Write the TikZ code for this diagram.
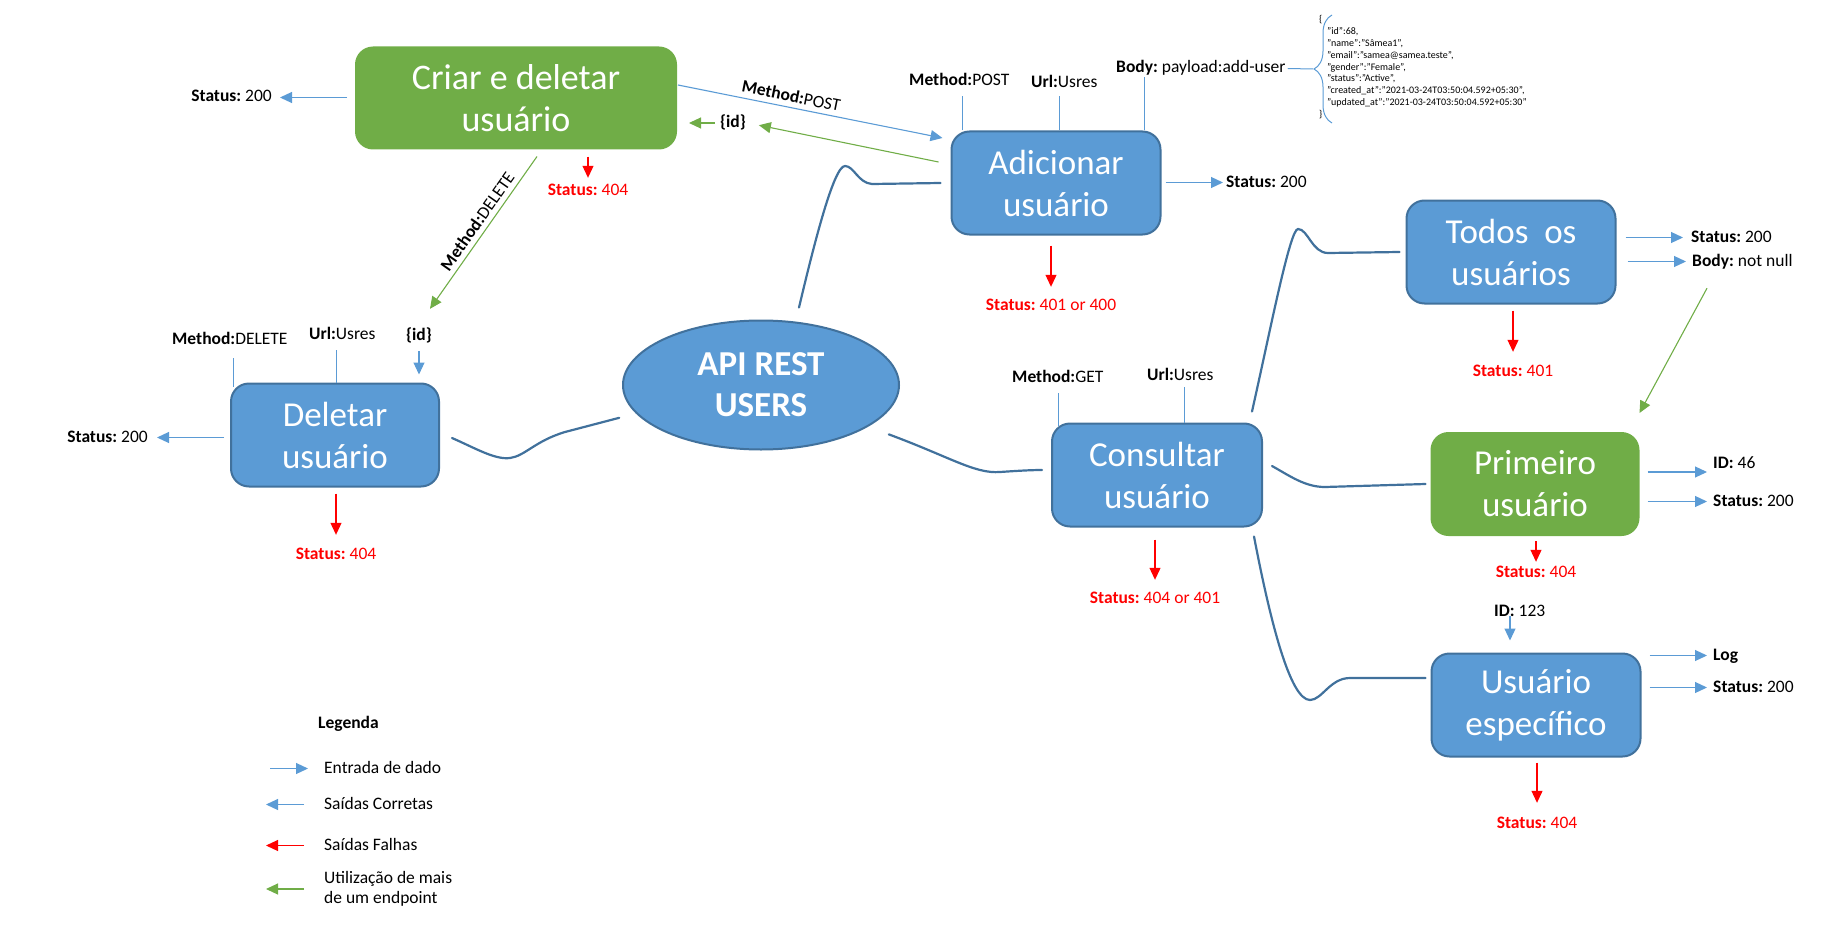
\documentclass[tikz,border=0pt]{standalone}
\usepackage{fontspec}
\setmainfont{Carlito}
\frenchspacing
\usetikzlibrary{arrows.meta, shapes.geometric, decorations.pathreplacing}
\definecolor{boxblue}{HTML}{5B9BD5}
\definecolor{lineblue}{HTML}{41719C}
\definecolor{boxgreen}{HTML}{70AD47}
\definecolor{failred}{HTML}{FF0000}
\tikzset{>={Triangle[length=12pt,width=11pt]},
  box/.style={rectangle, rounded corners=18pt, fill=boxblue, draw=lineblue, line width=2pt, text=white, align=center, inner sep=0pt, minimum width=209pt, minimum height=103pt, font=\fontsize{35}{42}\selectfont},
  gbox/.style={box, fill=boxgreen, draw=none},
  lbl/.style={inner sep=2pt, text height=12pt, text depth=3pt, font=\fontsize{17.5}{20}\selectfont},
  rlbl/.style={lbl, text=failred},
  json/.style={inner sep=0pt, font=\fontsize{10}{12}\selectfont},
  tick/.style={draw=boxblue, line width=1pt},
  inarr/.style={draw=boxblue, line width=1.1pt, ->},
  failarr/.style={draw=failred, line width=1.1pt, ->},
  multarr/.style={draw=boxgreen, line width=1.1pt, ->},
  branch/.style={draw=lineblue, line width=2.2pt, line cap=round}}

\begin{document}
\begin{tikzpicture}[x=1pt, y=-1pt]
\useasboundingbox (0,0) rectangle (1836,939);

\node[gbox, minimum width=322pt, font=\fontsize{36}{42}\selectfont] (criar) at (516,98) {Criar e deletar\\usuário};
\node[box] (add) at (1056,183) {Adicionar\\usuário};
\node[box, minimum width=208pt] (del) at (335,435) {Deletar\\usuário};
\node[ellipse, fill=boxblue, draw=lineblue, line width=2pt, text=white, align=center, inner sep=0pt, minimum width=276pt, minimum height=129pt, font=\fontsize{35}{41}\selectfont\bfseries] (api) at (761,385) {API REST\\USERS};
\node[box, minimum width=210pt] (cons) at (1157,475) {Consultar\\usuário};
\node[box] (todos) at (1511,252) {Todos\ \ os\\usuários};
\node[gbox, minimum height=104pt] (prim) at (1535,484) {Primeiro\\usuário};
\node[box] (uesp) at (1536,705) {Usuário\\específico};

\draw[branch] ([xshift=38,yshift=12]api.north) .. controls (815,240) and (834,166) .. (845,166) .. controls (854,166) and (858,183) .. (872,184) -- ([xshift=-10]add.west);
\draw[branch] ([xshift=20,yshift=-8]api.-21) .. controls (950,457) and (975,474) .. (1000,472) .. controls (1015,471) and (1030,470) .. ([xshift=-9,yshift=5]cons.west);
\draw[branch] ([xshift=12,yshift=-3]del.east) .. controls (475,448) and (495,460) .. (510,458) .. controls (525,456) and (535,441) .. (565,432) -- ([xshift=-17,yshift=-4]api.193);
\draw[branch] ([xshift=-11,yshift=11]cons.north east) .. controls (1271,327) and (1290,229) .. (1298,229) .. controls (1308,229) and (1312,253) .. (1328,253) -- ([xshift=-6]todos.west);
\draw[branch] ([xshift=9,yshift=9]cons.east) .. controls (1290,476) and (1305,487) .. (1325,487) -- ([xshift=-4]prim.west);
\draw[branch] ([xshift=-9,yshift=-9]cons.south east) .. controls (1270,620) and (1290,700) .. (1310,700) .. controls (1322,700) and (1330,678) .. (1350,678) -- ([xshift=-5,yshift=27]uesp.west);

\node[lbl, anchor=base east] (cr200) at (274,102) {\textbf{Status:} 200};
\node[rlbl, anchor=base] (cr404) at (588,195) {\textbf{Status:} 404};
\node[lbl] (idt) at (733,123) {\textbf{\{id\}}};
\draw[inarr, shorten <=7pt, shorten >=6pt] (criar.west |- cr200) -- (cr200.east);
\draw[failarr, shorten <=6pt, shorten >=3pt] (criar.south -| cr404) -- (cr404.north);
\draw[inarr] ([yshift=13]criar.east) -- node[lbl, sloped, above, pos=0.42] (post) {\textbf{Method:}POST} ([xshift=-8,yshift=45]add.west);
\draw[multarr, shorten >=11pt] ([xshift=-12,yshift=21]add.west) -- (idt.east);
\draw[multarr, shorten <=3pt, shorten >=11pt] (idt.west) -- (criar.east |- idt.west);

\node[lbl, anchor=base west] (delm) at (170,344) {\textbf{Method:}DELETE};
\node[lbl, anchor=base west] (delu) at (307,339) {\textbf{Url:}Usres};
\node[lbl, anchor=base] (delid) at (419,340) {\textbf{\{id\}}};
\node[lbl, anchor=base east] (del200) at (150,442) {\textbf{Status:} 200};
\node[rlbl, anchor=base] (del404) at (336,559) {\textbf{Status:} 404};
\draw[multarr, <-] ([xshift=11,yshift=17]delid.north) -- node[lbl, sloped, above, pos=0.53] (delmeth) {\textbf{Method:}DELETE} ([xshift=21,yshift=-6]criar.south);
\draw[tick] ([xshift=3,yshift=-4]del.north west) -- ++(0,-29);
\draw[tick] ([xshift=1]del.north) -- ++(0,-33);
\draw[inarr, shorten <=6pt, shorten >=8pt] (delid.south) -- (delid.south |- del.north);
\draw[inarr, shorten <=6pt, shorten >=7pt] (del.west |- del200) -- (del200.east);
\draw[failarr, shorten <=6pt, shorten >=10pt] (del.south -| del404) -- (del404.north);

\node[lbl, anchor=base west] (addm) at (907,86) {\textbf{Method:}POST};
\node[lbl, anchor=base west] (addu) at (1029,88) {\textbf{Url:}Usres};
\node[lbl, anchor=base west] (addb) at (1114,73) {\textbf{Body:} payload:add-user};
\node[lbl, anchor=base west] (add200) at (1224,187) {\textbf{Status:} 200};
\node[rlbl, anchor=base] (add4xx) at (1051,310) {\textbf{Status:} 401 or 400};
\draw[tick] ([xshift=12]add.north west) -- ++(0,-34);
\draw[tick] ([xshift=3]add.north) -- ++(0,-34);
\draw[tick] ([xshift=-17]add.north east) -- ++(0,-53);
\draw[inarr, shorten <=4pt, shorten >=1pt] (add.east |- add200.west) -- (add200.west);
\draw[failarr, shorten <=10pt, shorten >=9pt] (add.south -| add4xx) -- (add4xx.north);

\node[json, anchor=base west] (jopen) at (1319,23) {\{};
\foreach \jl [count=\i] in {{"id":68,}, {"name":"Sâmea1",}, {"email":"samea@samea.teste",}, {"gender":"Female",}, {"status":"Active",}, {"created\_at":"2021-03-24T03:50:04.592+05:30",}, {"updated\_at":"2021-03-24T03:50:04.592+05:30"}}
  \node[json, anchor=base west] (json\i) at (1327,23+11.8*\i) {\jl};
\node[json, anchor=base west] (jclose) at (1319,118) {\}};
\coordinate (bracetop) at (1332,15);
\coordinate (bracebot) at (1332,123);
\coordinate (bracetip) at (1313,69);
\draw[tick, decorate, decoration={brace, amplitude=18pt}] (bracebot) -- (bracetop);
\draw[tick] (addb.east) -- (bracetip);

\node[lbl, anchor=base west] (consm) at (1010,382) {\textbf{Method:}GET};
\node[lbl, anchor=base west] (consu) at (1145,380) {\textbf{Url:}Usres};
\node[rlbl, anchor=base] (cons4xx) at (1155,603) {\textbf{Status:} 404 or 401};
\draw[tick] ([xshift=7,yshift=-3]cons.north west) -- ++(0,-33);
\draw[tick] ([xshift=27]cons.north) -- ++(0,-36);
\draw[failarr, shorten <=12pt, shorten >=9pt] (cons.south -| cons4xx) -- (cons4xx.north);

\node[lbl, anchor=base west] (todos200) at (1689,242) {\textbf{Status:} 200};
\node[lbl, anchor=base west] (todosbody) at (1690,266) {\textbf{Body:} not null};
\node[rlbl, anchor=base] (todos401) at (1513,376) {\textbf{Status:} 401};
\draw[inarr, shorten <=9pt, shorten >=6pt] (todos.east |- todos200.west) -- (todos200.west);
\draw[inarr, shorten <=11pt, shorten >=4pt] (todos.east |- todosbody.west) -- (todosbody.west);
\draw[failarr, shorten <=6pt, shorten >=10pt] (todos.south -| todos401) -- (todos401.north);
\draw[multarr] ([xshift=17,yshift=-17]todosbody.south west) -- ([xshift=-1,yshift=18]prim.north east);

\node[lbl, anchor=base west] (primid) at (1711,468) {\textbf{ID:} 46};
\node[lbl, anchor=base west] (prim200) at (1711,506) {\textbf{Status:} 200};
\node[rlbl, anchor=base] (prim404) at (1536,577) {\textbf{Status:} 404};
\draw[inarr, shorten <=7pt, shorten >=4pt] ([yshift=-4]prim.east |- primid.base) -- ([yshift=-4]primid.base west);
\draw[inarr, shorten <=7pt, shorten >=4pt] (prim.east |- prim200.west) -- (prim200.west);
\draw[failarr, shorten <=4pt, shorten >=1pt] (prim.south -| prim404) -- (prim404.north);

\node[lbl, anchor=base west] (uespid) at (1492,616) {\textbf{ID:} 123};
\node[lbl, anchor=base west] (uesplog) at (1711,660) {\textbf{Log}};
\node[lbl, anchor=base west] (uesp200) at (1711,692) {\textbf{Status:} 200};
\node[rlbl, anchor=base] (uesp404) at (1537,828) {\textbf{Status:} 404};
\draw[inarr, shorten >=12pt] ([xshift=18]uespid.base west) -- ([xshift=18]uespid.base west |- uesp.north);
\draw[inarr, shorten <=8pt, shorten >=4pt] (uesp.east |- uesplog.west) -- (uesplog.west);
\draw[inarr, shorten <=8pt, shorten >=4pt] (uesp.east |- uesp200.west) -- (uesp200.west);
\draw[failarr, shorten <=5pt, shorten >=11pt] (uesp.south -| uesp404) -- (uesp404.north);

\node[lbl, anchor=base west] (legtitle) at (316,728) {\textbf{Legenda}};
\node[lbl, anchor=base west] (leg1) at (322,773) {Entrada de dado};
\node[lbl, anchor=base west] (leg2) at (322,809) {Saídas Corretas};
\node[lbl, anchor=base west] (leg3) at (322,850) {Saídas Falhas};
\node[inner sep=2pt, anchor=west, align=left, font=\fontsize{17.5}{20.5}\selectfont] (leg4) at (322,889) {Utilização de mais\\de um endpoint};
\draw[inarr] ([xshift=-52]leg1.west) -- ([xshift=-14]leg1.west);
\draw[inarr] ([xshift=-18]leg2.west) -- ([xshift=-56]leg2.west);
\draw[failarr] ([xshift=-18]leg3.west) -- ([xshift=-56]leg3.west);
\draw[multarr] ([xshift=-18]leg4.west) -- ([xshift=-56]leg4.west);
\end{tikzpicture}
\end{document}
